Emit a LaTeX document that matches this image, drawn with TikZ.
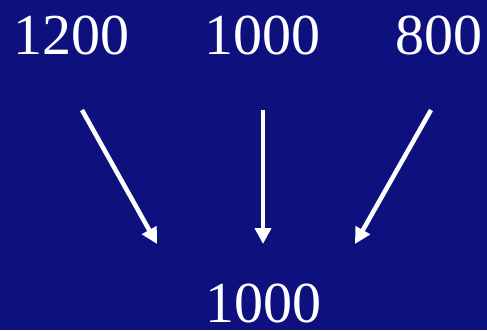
\documentclass[tikz,border=0pt]{standalone}
\usepackage{fontspec}
\setmainfont{Liberation Serif}
\usepackage{xcolor}
\definecolor{slideBlue}{RGB}{14, 16, 126}
\usepackage{tikz}
\usetikzlibrary{arrows.meta}

\begin{document}
\begin{tikzpicture}[x=1pt, y=1pt,
    num/.style={anchor=base, text=white, inner sep=0pt, font=\fontsize{58}{60}\selectfont},
    arr/.style={white, line width=4.5pt, -{Triangle[length=16pt, width=16pt]}}]
    \fill[slideBlue] (0,0) rectangle (487,330);
    \useasboundingbox (0,0) rectangle (487,330);
    \node[num] (a1200) at (71,275) {1200};
    \node[num] (a1000) at (262,275) {1000};
    \node[num] (a800) at (439,275) {800};
    \node[num] (result) at (263,8) {1000};
    \coordinate (s1) at (82,220);
    \coordinate (s2) at (263,220);
    \coordinate (s3) at (431,220);
    \coordinate (e1) at (157,86);
    \coordinate (e2) at (263,86);
    \coordinate (e3) at (355,86);
    \draw[arr] (s1) -- (e1);
    \draw[arr] (s2) -- (e2);
    \draw[arr] (s3) -- (e3);
\end{tikzpicture}
\end{document}
